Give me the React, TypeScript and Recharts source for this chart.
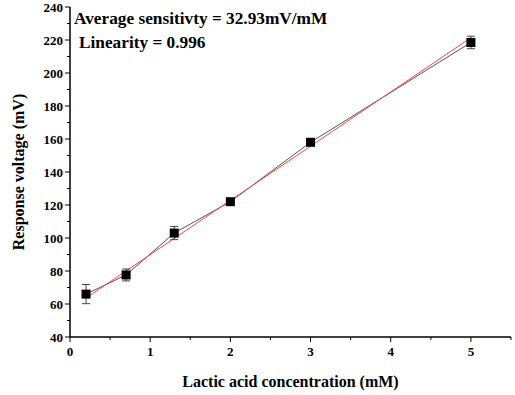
import {
  ComposedChart,
  ErrorBar,
  Label,
  Line,
  Scatter,
  XAxis,
  YAxis,
} from "recharts";

const concentration = [0.2, 0.7, 1.3, 2, 3, 5];
const voltage = [66, 77.6, 103, 122, 158, 218.5];
const voltageErr = [5.8, 3.6, 4, 1.2, 1.5, 3.8];

const fitX = [0.2, 5];
const fitY = [63.6, 221.4];

const xTicks = [0, 0.5, 1, 1.5, 2, 2.5, 3, 3.5, 4, 4.5, 5, 5.5];
const yTicks = [40, 50, 60, 70, 80, 90, 100, 110, 120, 130, 140, 150, 160, 170, 180, 190, 200, 210, 220, 230, 240];

const points = concentration.map((x, i) => ({ x, y: voltage[i], err: voltageErr[i] }));
const fitData = fitX.map((x, i) => ({ x, fit: fitY[i] }));

const FONT = "'Times New Roman', 'Liberation Serif', serif";

function XTick(props: any) {
  const { x, y, payload } = props;
  const v = payload.value as number;
  const major = Number.isInteger(v);
  return (
    <g>
      <line x1={x} y1={y} x2={x} y2={y + (major ? 5 : 3)} stroke="#000" strokeWidth={1} />
      {major && (
        <text x={x} y={y + 19} textAnchor="middle" fontFamily={FONT} fontWeight="bold" fontSize={13} fill="#000">
          {v}
        </text>
      )}
    </g>
  );
}

function YTick(props: any) {
  const { x, y, payload } = props;
  const v = payload.value as number;
  const major = v % 20 === 0;
  return (
    <g>
      <line x1={x} y1={y} x2={x - (major ? 5 : 3)} y2={y} stroke="#000" strokeWidth={1} />
      {major && (
        <text x={x - 7} y={y + 4.5} textAnchor="end" fontFamily={FONT} fontWeight="bold" fontSize={13} fill="#000">
          {v}
        </text>
      )}
    </g>
  );
}

function Marker(props: any) {
  const { cx, cy } = props;
  return <rect x={cx - 4.5} y={cy - 4.5} width={9} height={9} fill="#000" />;
}

export default function App() {
  return (
    <div style={{ position: "absolute", left: 0, top: 0, width: 515, height: 395, background: "#fff" }}>
      <ComposedChart width={515} height={395} margin={{ top: 7, right: 4, bottom: 0, left: 0 }}>
        <XAxis
          type="number"
          dataKey="x"
          domain={[0, 5.5]}
          ticks={xTicks}
          interval={0}
          height={58}
          tickSize={0}
          tickMargin={0}
          tickLine={false}
          tick={<XTick />}
          axisLine={{ stroke: "#000", strokeWidth: 1.5 }}
          allowDuplicatedCategory={false}
        >
          <Label
            content={({ viewBox }: any) => (
              <text
                x={viewBox.x + viewBox.width / 2}
                y={viewBox.y + 50}
                textAnchor="middle"
                fontFamily={FONT}
                fontWeight="bold"
                fontSize={16}
                fill="#000"
              >
                Lactic acid concentration (mM)
              </text>
            )}
          />
        </XAxis>
        <YAxis
          type="number"
          domain={[40, 240]}
          ticks={yTicks}
          interval={0}
          width={70}
          tickSize={0}
          tickMargin={0}
          tickLine={false}
          tick={<YTick />}
          axisLine={{ stroke: "#000", strokeWidth: 1.5 }}
        >
          <Label
            content={({ viewBox }: any) => {
              const cx = viewBox.x + 24;
              const cy = viewBox.y + viewBox.height / 2;
              return (
                <text
                  x={cx}
                  y={cy}
                  transform={`rotate(-90 ${cx} ${cy})`}
                  textAnchor="middle"
                  fontFamily={FONT}
                  fontWeight="bold"
                  fontSize={16}
                  fill="#000"
                >
                  Response voltage (mV)
                </text>
              );
            }}
          />
        </YAxis>
        <Line
          data={points}
          dataKey="y"
          stroke="#555"
          strokeWidth={1}
          dot={false}
          activeDot={false}
          isAnimationActive={false}
        />
        <Line
          data={fitData}
          dataKey="fit"
          stroke="#ff4040"
          strokeWidth={1}
          dot={false}
          activeDot={false}
          isAnimationActive={false}
        />
        <Scatter data={points} dataKey="y" shape={<Marker />} isAnimationActive={false}>
          <ErrorBar dataKey="err" direction="y" width={4} stroke="#444" strokeWidth={1} isAnimationActive={false} />
        </Scatter>
      </ComposedChart>
      <div
        style={{
          position: "absolute",
          left: 74,
          top: 7,
          fontFamily: FONT,
          fontWeight: "bold",
          fontSize: 17.3,
          lineHeight: "24px",
          color: "#000",
          whiteSpace: "nowrap",
        }}
      >
        <div>Average sensitivty = 32.93mV/mM</div>
        <div style={{ paddingLeft: 5 }}>Linearity = 0.996</div>
      </div>
    </div>
  );
}
